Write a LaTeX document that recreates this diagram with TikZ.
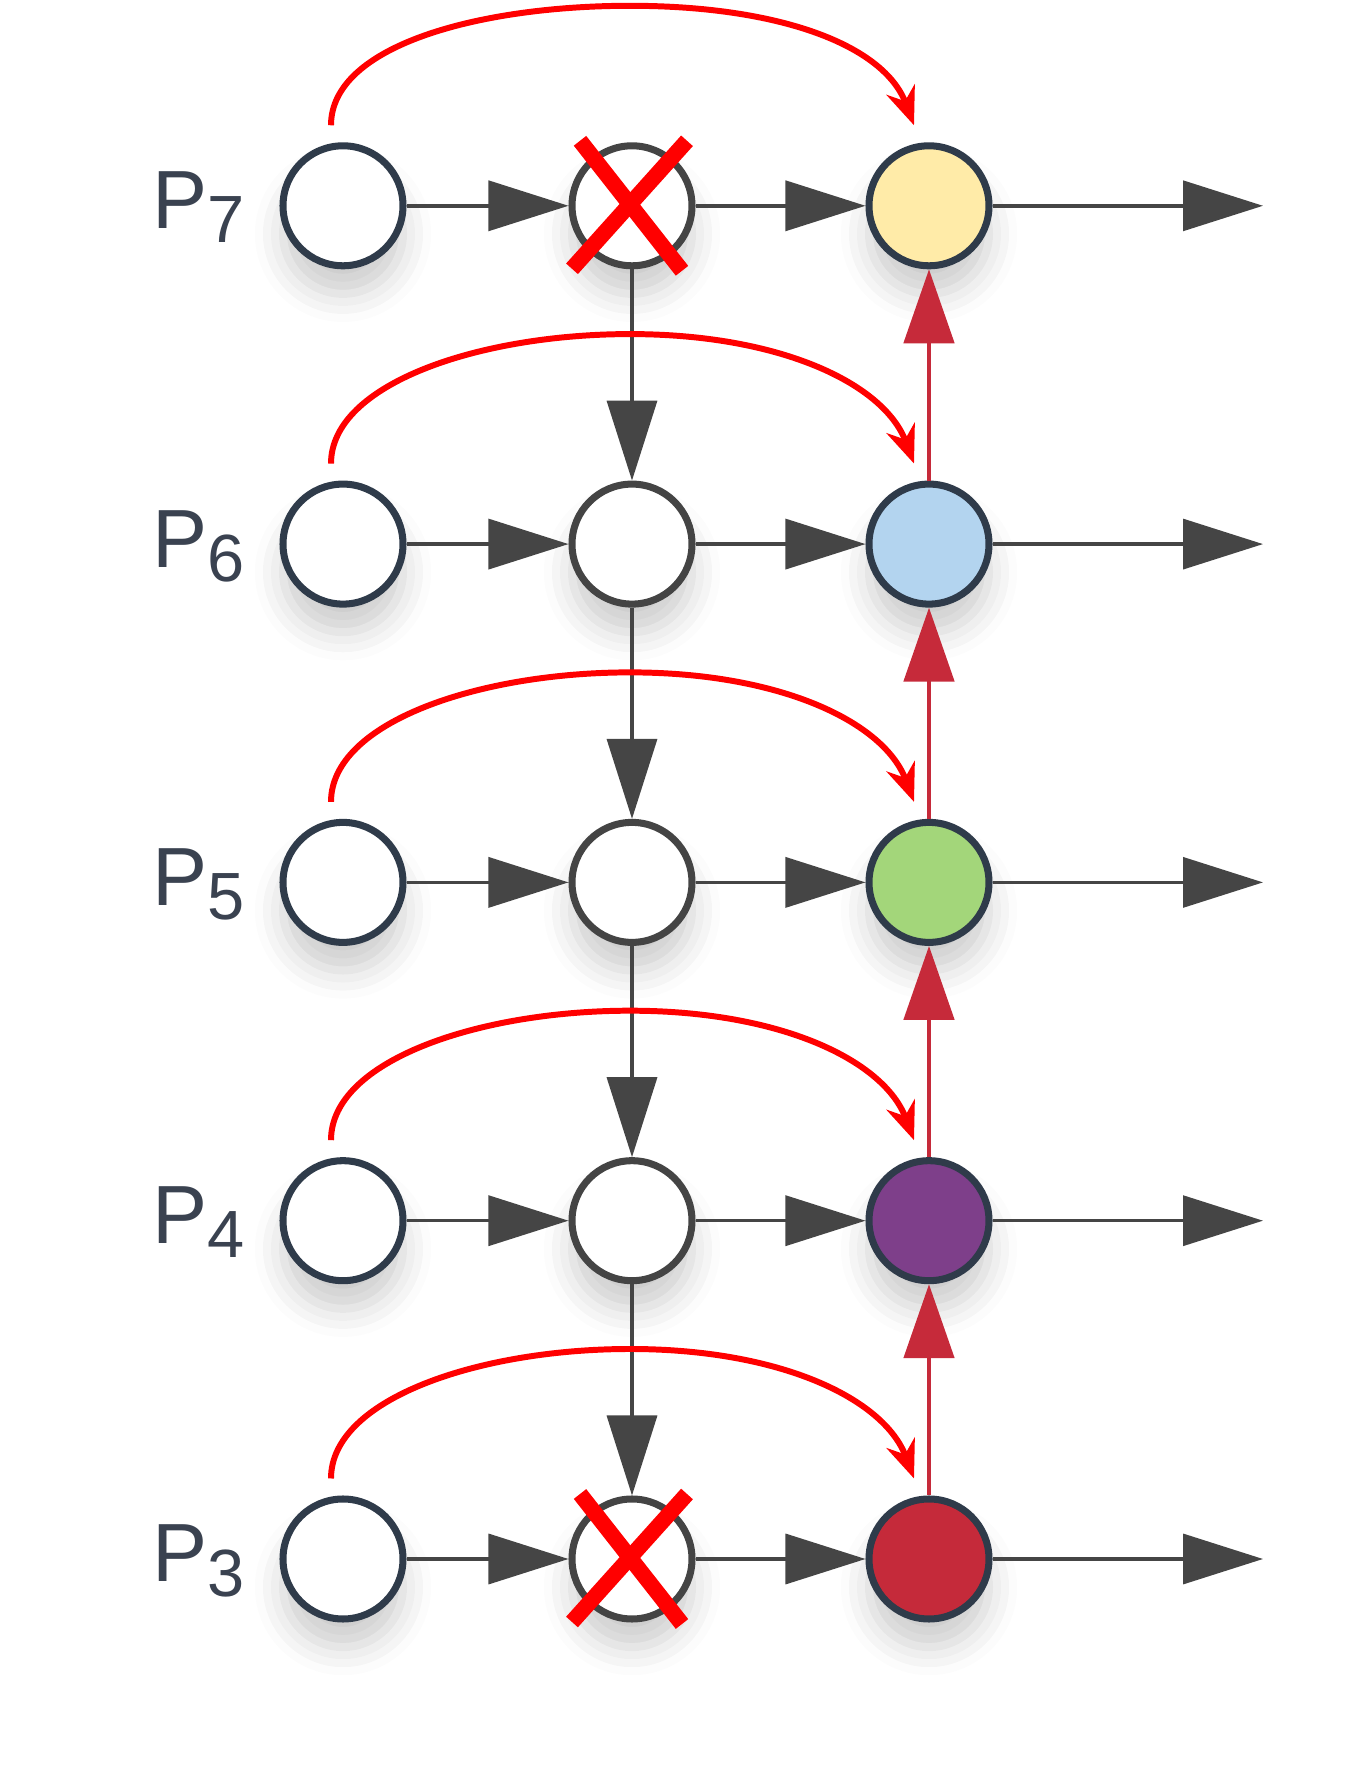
\documentclass[tikz,border=0pt]{standalone}
\usepackage{fontspec}
\setmainfont{Liberation Sans}
\usetikzlibrary{arrows.meta,shadows.blur}

\definecolor{ink}{HTML}{2F3B4A}
\definecolor{midgray}{HTML}{444444}
\definecolor{linegray}{HTML}{454545}
\definecolor{crimson}{HTML}{C62A3A}
\definecolor{labelgray}{HTML}{3A4250}
\definecolor{fillseven}{HTML}{FFEBA8}
\definecolor{fillsix}{HTML}{B3D4EF}
\definecolor{fillfive}{HTML}{A3D67A}
\definecolor{fillfour}{HTML}{7E3F8A}
\definecolor{fillthree}{HTML}{C52A3A}

\tikzset{
  stage/.style={circle,minimum size=1.2cm,inner sep=0pt,line width=2pt,
    draw=ink,fill=white,
    blur shadow={shadow xshift=0pt,shadow yshift=-8pt,
      shadow blur radius=8pt,shadow opacity=20}},
  lbl/.style={text=labelgray,inner sep=0pt,anchor=base west,
    font=\fontsize{23.5}{24}\selectfont},
  flow/.style={draw=linegray,line width=1pt,
    -{Triangle[length=0.8cm,width=0.5cm]}},
  lift/.style={draw=crimson,line width=1.4pt,
    -{Triangle[length=0.74cm,width=0.5cm]}},
  skip/.style={draw=red,line width=1.7pt,
    -{Stealth[length=0.38cm,width=0.3cm]}},
  cross/.style={red,line width=4.5pt},
}

\begin{document}
\begin{tikzpicture}
 \useasboundingbox (0,0) rectangle (13.52,17.92);
 % one row per level
 \foreach \k/\col in {3/fillthree,4/fillfour,5/fillfive,6/fillsix,7/fillseven} {
   \pgfmathsetmacro\y{2.33+3.383*(\k-3)}
   \pgfmathsetmacro\h{\k==7 ? 2.0 : 2.1}
   \node[stage] (l\k) at (3.43,\y) {};
   \node[stage,draw=midgray] (m\k) at (6.32,\y) {};
   \node[stage,fill=\col] (r\k) at (9.29,\y) {};
   \coordinate (o\k) at (12.63,\y);
   \coordinate (a\k) at (6.3,\y+\h);
   \node[lbl] (p\k) at (1.52,\y-0.23)
     {P\raisebox{-4pt}{\fontsize{19}{19}\selectfont\k}};
   \draw[flow] (l\k) -- (m\k);
   \draw[flow] (m\k) -- (r\k);
   \draw[flow] (r\k) -- (o\k);
 }
 % top-down and bottom-up paths
 \foreach \k/\j in {3/4,4/5,5/6,6/7} {
   \draw[flow] (m\j) -- (m\k);
   \draw[lift] (r\k) -- (r\j);
 }
 % lateral skips
 \foreach \k in {3,...,7}
   \draw[skip] ([shift={(-0.12,0.17)}]l\k.north)
     .. controls +(0,0.8) and +(-1.5,0) .. (a\k)
     .. controls +(1.5,0) and +(-0.3,0.8) ..
     ([shift={(-0.15,0.17)}]r\k.north);
 % dropped levels
 \foreach \k in {3,7} {
   \draw[cross] ([shift={(-0.52,0.65)}]m\k.center) -- ([shift={(0.5,-0.65)}]m\k.center);
   \draw[cross] ([shift={(0.55,0.65)}]m\k.center) -- ([shift={(-0.6,-0.63)}]m\k.center);
 }
\end{tikzpicture}
\end{document}
